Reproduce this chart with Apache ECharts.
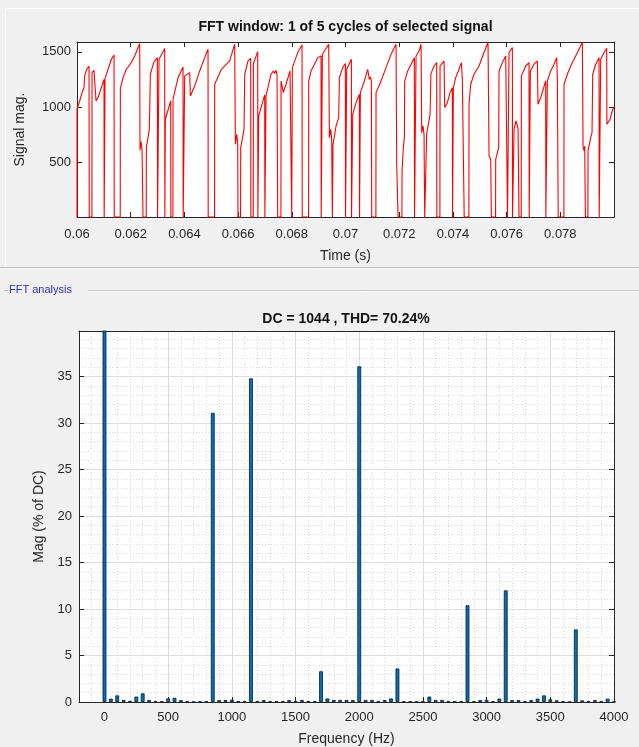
<!DOCTYPE html>
<html>
<head>
<meta charset="utf-8">
<script src="https://cdn.jsdelivr.net/npm/echarts/dist/echarts.min.js"></script>
<style>
  html, body { margin: 0; padding: 0; background: #f0f0f0; }
  #chart { width: 639px; height: 747px; }
</style>
</head>
<body>
<div id="chart"></div>
<script>
// ---- Top plot: signal over one FFT window (time in ms, magnitude) ----
const timeMs = [60.000,60.000,60.100,60.187,60.260,60.286,60.360,60.448,60.455,60.555,60.560,60.634,60.696,60.709,60.783,60.907,61.007,61.012,61.040,61.044,61.156,61.280,61.379,61.386,61.610,61.615,61.714,61.838,62.024,62.149,62.335,62.347,62.384,62.422,62.459,62.578,62.583,62.695,62.727,62.732,62.856,62.993,63.000,63.050,63.055,63.266,63.272,63.285,63.290,63.490,63.495,63.571,63.576,63.763,63.949,63.955,64.006,64.011,64.197,64.222,64.383,64.570,64.756,64.880,64.886,65.123,65.128,65.377,65.687,65.873,65.898,65.948,65.985,65.997,66.092,66.097,66.221,66.240,66.246,66.370,66.469,66.475,66.564,66.569,66.730,66.737,66.762,66.767,66.991,66.997,67.035,67.040,67.227,67.314,67.363,67.413,67.450,67.475,67.595,67.600,67.636,67.686,67.786,67.934,67.990,67.997,68.016,68.021,68.220,68.381,68.388,68.625,68.630,68.717,68.841,68.965,69.089,69.095,69.134,69.139,69.375,69.400,69.449,69.486,69.511,69.531,69.536,69.648,69.747,69.772,69.896,69.995,70.001,70.040,70.045,70.219,70.225,70.264,70.269,70.393,70.517,70.523,70.549,70.554,70.703,70.827,70.864,70.889,70.926,70.964,70.976,71.132,71.137,71.324,71.510,71.696,71.882,71.907,71.932,71.957,72.101,72.106,72.155,72.193,72.205,72.317,72.441,72.565,72.571,72.622,72.627,72.752,72.814,72.838,72.888,72.925,72.950,73.020,73.025,73.150,73.180,73.297,73.396,73.402,73.516,73.521,73.670,73.694,73.794,73.893,73.980,73.986,74.012,74.017,74.104,74.228,74.315,74.352,74.415,74.421,74.596,74.601,74.663,74.787,74.973,75.159,75.308,75.346,75.408,75.433,75.589,75.594,75.656,75.706,75.718,75.842,75.967,76.029,76.035,76.085,76.090,76.215,76.221,76.272,76.277,76.350,76.426,76.463,76.545,76.550,76.711,76.835,76.841,76.880,76.885,77.022,77.146,77.170,77.270,77.456,77.462,77.513,77.518,77.642,77.767,77.866,77.891,77.916,77.922,78.134,78.139,78.263,78.387,78.573,78.822,78.847,78.884,78.909,78.934,79.028,79.033,79.133,79.182,79.207,79.318,79.443,79.449,79.500,79.505,79.629,79.728,79.735,79.853,79.952,80.000];
const signalMag = [0,980,1054,1130,1175,1282,1342,1369,0,0,1312,1333,1336,1054,1085,1175,1251,0,0,1260,1342,1433,1472,0,0,1169,1266,1342,1403,1463,1575,606,685,615,0,0,630,797,800,1297,1403,1448,0,0,1433,1530,0,0,888,1054,0,0,1069,1266,1363,0,0,1282,1312,1100,1191,1327,1448,1524,0,0,1206,1342,1418,1570,660,751,675,0,0,630,797,805,1297,1418,1442,0,0,1394,1503,0,0,918,1109,0,0,1100,1297,1327,1303,1333,1291,0,0,1236,1251,1130,1206,1327,1345,0,0,1357,1494,1563,0,0,1236,1327,1388,1448,1463,0,0,1478,1570,721,797,706,0,0,660,827,903,1266,1357,1394,0,0,1342,1433,0,0,933,1039,1115,0,0,1130,1236,1342,1351,1251,1272,1236,0,0,1130,1236,1357,1478,1570,479,479,0,0,418,630,721,1236,1327,1388,1448,0,0,1463,1515,1570,766,827,751,0,0,760,930,1300,1372,1403,0,0,1372,1418,994,1039,1130,1175,0,0,1175,1266,1342,1403,1251,1251,0,0,1024,1206,1297,1372,1494,1585,554,524,0,0,524,585,630,1327,1403,1463,1478,0,0,1494,1539,0,0,797,873,806,0,0,1282,1372,1403,0,0,1327,1388,1418,1024,1085,1236,0,0,1236,1327,1388,1448,1236,1236,0,0,1206,1297,1372,1463,1585,645,600,645,0,0,600,721,766,1297,1388,1448,0,0,1433,1494,1533,842,888,979,994];

// ---- Bottom plot: FFT harmonic magnitudes (% of DC) ----
const fftFreq = [0,50,100,150,200,250,300,350,400,450,500,550,600,650,700,750,800,850,900,950,1000,1050,1100,1150,1200,1250,1300,1350,1400,1450,1500,1550,1600,1650,1700,1750,1800,1850,1900,1950,2000,2050,2100,2150,2200,2250,2300,2350,2400,2450,2500,2550,2600,2650,2700,2750,2800,2850,2900,2950,3000,3050,3100,3150,3200,3250,3300,3350,3400,3450,3500,3550,3600,3650,3700,3750,3800,3850,3900,3950,4000];
const fftMag = [100,0.36,0.71,0.22,0.12,0.58,0.93,0.22,0.08,0.08,0.38,0.45,0.2,0.07,0.02,0.06,0.06,31.1,0.2,0.2,0.25,0.1,0.08,34.8,0.08,0.2,0.08,0.08,0.08,0.2,0.08,0.22,0.1,0.08,3.3,0.38,0.22,0.22,0.22,0.2,36.1,0.22,0.22,0.1,0.2,0.38,3.6,0.07,0.07,0.07,0.07,0.58,0.22,0.22,0.07,0.07,0.07,10.4,0.07,0.2,0.22,0.07,0.36,12.0,0.2,0.2,0.07,0.2,0.36,0.71,0.28,0.18,0.07,0.02,7.8,0.18,0.07,0.2,0.07,0.36,0.02];

// tick labels
const freqTicks = [0,500,1000,1500,2000,2500,3000,3500,4000];
const timeTickStart = 0.06, timeTickStep = 0.002;
const magTickStep = 5;
const sigTickStep = 500;

if (timeMs.length !== signalMag.length) throw new Error('signal length mismatch ' + timeMs.length + ' vs ' + signalMag.length);
if (fftFreq.length !== fftMag.length) throw new Error('fft length mismatch');

const signalData = timeMs.map((t, i) => [t / 1000, signalMag[i]]);
const fftData = fftFreq.map((f, i) => [f, fftMag[i]]);

const FONT = "'Liberation Sans', Arial, Helvetica, sans-serif";
const AX = '#262626';
const plain = v => String(v);

const chart = echarts.init(document.getElementById('chart'), null, {renderer: 'canvas', width: 639, height: 747});

const mirrorAxisBase = {
  axisLine: {show: true, onZero: false, lineStyle: {color: AX, width: 1}},
  axisTick: {show: true, inside: true, length: 5, lineStyle: {color: AX}},
  axisLabel: {show: false},
  splitLine: {show: false}
};

const option = {
  backgroundColor: '#f0f0f0',
  animation: false,
  textStyle: {fontFamily: FONT},
  grid: [
    {left: 77, right: 25, top: 42, height: 175, show: true, backgroundColor: '#ffffff', borderWidth: 0},
    {left: 79, right: 25, top: 331, height: 373, show: true, backgroundColor: '#ffffff', borderWidth: 0}
  ],
  xAxis: [
    { // 0: time axis bottom
      type: 'value', gridIndex: 0, position: 'bottom',
      min: timeTickStart, max: 0.08, interval: timeTickStep,
      axisLine: {show: true, onZero: false, lineStyle: {color: AX}},
      axisTick: {show: true, inside: true, length: 5, lineStyle: {color: AX}},
      axisLabel: {show: true, color: AX, fontSize: 13, margin: 11, showMaxLabel: false, fontFamily: FONT},
      splitLine: {show: false},
      name: 'Time (s)', nameLocation: 'middle', nameGap: 32,
      nameTextStyle: {color: AX, fontSize: 14, fontFamily: FONT}
    },
    Object.assign({ // 1: time axis top mirror
      type: 'value', gridIndex: 0, position: 'top',
      min: timeTickStart, max: 0.08, interval: timeTickStep
    }, mirrorAxisBase),
    { // 2: frequency axis bottom
      type: 'value', gridIndex: 1, position: 'bottom',
      min: -200, max: 4000, interval: 100,
      axisLine: {show: true, onZero: false, lineStyle: {color: AX}},
      axisTick: {show: true, inside: true, length: 5, lineStyle: {color: AX}, customValues: freqTicks},
      axisLabel: {show: true, color: AX, fontSize: 13, margin: 9, customValues: freqTicks, formatter: plain, fontFamily: FONT},
      splitLine: {show: true, lineStyle: {color: '#dedede', width: 1}},
      name: 'Frequency (Hz)', nameLocation: 'middle', nameGap: 30,
      nameTextStyle: {color: AX, fontSize: 14, fontFamily: FONT}
    },
    { // 3: frequency axis top (minor grid)
      type: 'value', gridIndex: 1, position: 'top',
      min: -200, max: 4000, interval: 100,
      axisLine: {show: true, onZero: false, lineStyle: {color: AX}},
      axisTick: {show: false},
      axisLabel: {show: false},
      splitLine: {show: true, lineStyle: {color: '#d8d8d8', width: 1, type: [1, 2]}}
    }
  ],
  yAxis: [
    { // 0: signal magnitude left
      type: 'value', gridIndex: 0, position: 'left',
      min: 0, max: 1590, interval: sigTickStep,
      axisLine: {show: true, onZero: false, lineStyle: {color: AX}},
      axisTick: {show: true, inside: true, length: 5, lineStyle: {color: AX}},
      axisLabel: {show: true, color: AX, fontSize: 13, margin: 6, showMinLabel: false, showMaxLabel: false, formatter: plain, fontFamily: FONT},
      splitLine: {show: false},
      name: 'Signal mag.', nameLocation: 'middle', nameGap: 50,
      nameTextStyle: {color: AX, fontSize: 14, fontFamily: FONT}
    },
    Object.assign({ // 1: right mirror
      type: 'value', gridIndex: 0, position: 'right',
      min: 0, max: 1590, interval: sigTickStep
    }, mirrorAxisBase),
    { // 2: magnitude % of DC left
      type: 'value', gridIndex: 1, position: 'left',
      min: 0, max: 39.9, interval: magTickStep,
      axisLine: {show: true, onZero: false, lineStyle: {color: AX}},
      axisTick: {show: true, inside: true, length: 5, lineStyle: {color: AX}},
      axisLabel: {show: true, color: AX, fontSize: 13, margin: 7, showMaxLabel: false, formatter: plain, fontFamily: FONT},
      splitLine: {show: true, lineStyle: {color: '#dedede', width: 1}},
      minorTick: {show: true, splitNumber: 5, length: 0},
      minorSplitLine: {show: true, lineStyle: {color: '#d8d8d8', width: 1, type: [1, 2]}},
      name: 'Mag (% of DC)', nameLocation: 'middle', nameGap: 30,
      nameTextStyle: {color: AX, fontSize: 14, fontFamily: FONT}
    },
    Object.assign({ // 3: right mirror
      type: 'value', gridIndex: 1, position: 'right',
      min: 0, max: 39.9, interval: magTickStep
    }, mirrorAxisBase)
  ],
  series: [
    {
      type: 'line', xAxisIndex: 0, yAxisIndex: 0,
      data: signalData, showSymbol: false, symbol: 'none',
      lineStyle: {color: '#ff0000', width: 1.1},
      clip: true, z: 3
    },
    {
      type: 'bar', xAxisIndex: 2, yAxisIndex: 2,
      data: fftData, barWidth: 3.8,
      itemStyle: {color: '#0072BD', borderColor: '#0d1a26', borderWidth: 0.8},
      clip: true, z: 3
    }
  ],
  graphic: [
    {type: 'line', shape: {x1: 5, y1: 8.5, x2: 639, y2: 8.5}, style: {stroke: '#fbfbfb', lineWidth: 1}, silent: true},
    {type: 'line', shape: {x1: 5.5, y1: 8, x2: 5.5, y2: 267}, style: {stroke: '#fbfbfb', lineWidth: 1}, silent: true},
    {type: 'line', shape: {x1: 0, y1: 267.5, x2: 639, y2: 267.5}, style: {stroke: '#b9b9b9', lineWidth: 1}, silent: true},
    {type: 'line', shape: {x1: 0, y1: 268.5, x2: 639, y2: 268.5}, style: {stroke: '#fafafa', lineWidth: 1}, silent: true},
    {type: 'line', shape: {x1: 4, y1: 290.5, x2: 8, y2: 290.5}, style: {stroke: '#c4c4c4', lineWidth: 1}, silent: true},
    {type: 'line', shape: {x1: 88, y1: 290.5, x2: 639, y2: 290.5}, style: {stroke: '#c4c4c4', lineWidth: 1}, silent: true},
    {type: 'line', shape: {x1: 88, y1: 291.5, x2: 639, y2: 291.5}, style: {stroke: '#fbfbfb', lineWidth: 1}, silent: true},
    {type: 'text', left: 9, top: 284, style: {text: 'FFT analysis', fill: '#2b2bc4', font: '11px ' + FONT}, silent: true},
    {type: 'text', x: 345.5, y: 27, style: {text: 'FFT window: 1 of 5 cycles of selected signal', fill: '#111111', font: 'bold 14px ' + FONT, textAlign: 'center', textVerticalAlign: 'middle'}, silent: true},
    {type: 'text', x: 346, y: 319, style: {text: 'DC = 1044 , THD= 70.24%', fill: '#111111', font: 'bold 14px ' + FONT, textAlign: 'center', textVerticalAlign: 'middle'}, silent: true}
  ]
};

chart.setOption(option);
</script>
</body>
</html>
